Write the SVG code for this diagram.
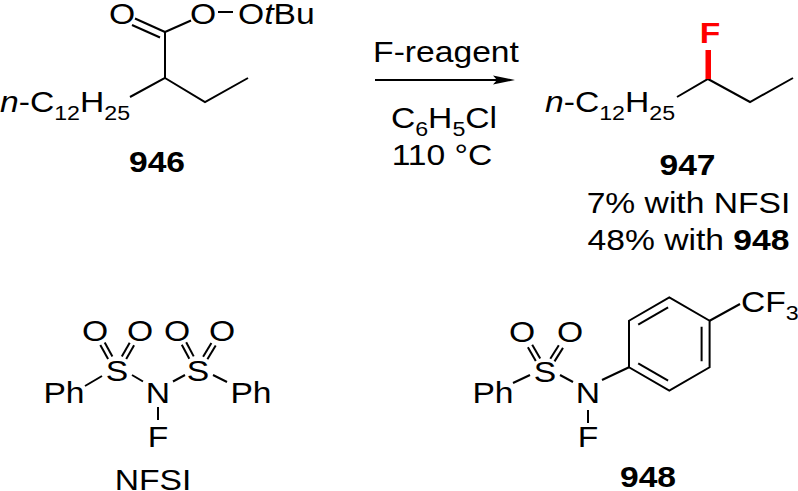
<svg xmlns="http://www.w3.org/2000/svg" width="798" height="491" viewBox="0 0 798 491">
<style>
text { font-family: "Liberation Sans", Arial, Helvetica, sans-serif; font-size: 29px; fill: #000; }
.b { font-weight: bold; }
.m { text-anchor: middle; }
.i { font-style: italic; }
.sub { font-size: 20px; }
.bond { stroke: #000; stroke-width: 2; fill: none; stroke-linecap: butt; stroke-linejoin: miter; }
.red { fill: #ff0000; }
</style>
<rect width="798" height="491" fill="#fff"/>

<g id="compound-946">
  <text class="m" transform="matrix(1.16 0 0 1 122 24)">O</text>
  <text class="m" transform="matrix(1.16 0 0 1 203 24)">O</text>
  <text transform="matrix(1.16 0 0 1 238 24)">O<tspan class="i">t</tspan>Bu</text>
  <text transform="matrix(1.16 0 0 1 0 112)"><tspan class="i">n</tspan>-C<tspan class="sub" dy="8">12</tspan><tspan dy="-8">H</tspan><tspan class="sub" dy="8">25</tspan></text>
  <text class="m b" transform="matrix(1.16 0 0 1 157 172)">946</text>
  <line class="bond" x1="218" y1="12" x2="233" y2="12"/>
  <line class="bond" x1="135" y1="18.5" x2="165" y2="32"/>
  <line class="bond" x1="132" y1="25" x2="160" y2="37.5"/>
  <line class="bond" x1="165" y1="32" x2="191" y2="20.5"/>
  <polyline class="bond" points="165,32 165,78 130,97"/>
  <polyline class="bond" points="165,78 205,102 248,78"/>
</g>

<g id="conditions">
  <text class="m" transform="matrix(1.16 0 0 1 446 62)">F-reagent</text>
  <text class="m" transform="matrix(1.16 0 0 1 444 128)">C<tspan class="sub" dy="8">6</tspan><tspan dy="-8">H</tspan><tspan class="sub" dy="8">5</tspan><tspan dy="-8">Cl</tspan></text>
  <text class="m" transform="matrix(1.16 0 0 1 442 165)">110 °C</text>
</g>

<g id="compound-947">
  <text transform="matrix(1.16 0 0 1 545 112)"><tspan class="i">n</tspan>-C<tspan class="sub" dy="8">12</tspan><tspan dy="-8">H</tspan><tspan class="sub" dy="8">25</tspan></text>
  <polyline class="bond" points="677,97 708,79 750,102 793,78"/>
  <rect class="red" x="705.5" y="50" width="5.5" height="29"/>
  <text class="m b red" transform="matrix(1.16 0 0 1 710 43)">F</text>
  <text class="m b" transform="matrix(1.16 0 0 1 687.5 175)">947</text>
  <text class="m" transform="matrix(1.16 0 0 1 688.5 213)">7% with NFSI</text>
  <text class="m" transform="matrix(1.16 0 0 1 688.5 250)">48% with <tspan class="b">948</tspan></text>
</g>

<g id="NFSI">
  <text class="m" transform="matrix(1.16 0 0 1 95 341)">O</text>
  <text class="m" transform="matrix(1.16 0 0 1 140 341)">O</text>
  <text class="m" transform="matrix(1.16 0 0 1 177 341)">O</text>
  <text class="m" transform="matrix(1.16 0 0 1 222 341)">O</text>
  <text class="m" transform="matrix(1.16 0 0 1 117 381)">S</text>
  <text class="m" transform="matrix(1.16 0 0 1 198 381)">S</text>
  <text class="m" transform="matrix(1.16 0 0 1 158 403)">N</text>
  <text class="m" transform="matrix(1.16 0 0 1 158 447)">F</text>
  <text class="m" transform="matrix(1.16 0 0 1 64 403)">Ph</text>
  <text class="m" transform="matrix(1.16 0 0 1 251 403)">Ph</text>
  <text class="m" transform="matrix(1.16 0 0 1 153 490)">NFSI</text>
  <line class="bond" x1="85" y1="386" x2="102" y2="376"/>
  <line class="bond" x1="132" y1="375" x2="143" y2="381.5"/>
  <line class="bond" x1="173" y1="381.5" x2="185" y2="375"/>
  <line class="bond" x1="213" y1="375" x2="227" y2="382"/>
  <line class="bond" x1="158" y1="407" x2="158" y2="420"/>
  <line class="bond" x1="112.4" y1="356.5" x2="104.7" y2="342.5"/>
  <line class="bond" x1="108.1" y1="358.9" x2="100.3" y2="344.9"/>
  <line class="bond" x1="126.2" y1="359.1" x2="134.1" y2="345.2"/>
  <line class="bond" x1="121.8" y1="356.6" x2="129.7" y2="342.8"/>
  <line class="bond" x1="193.7" y1="356.4" x2="186.2" y2="342.3"/>
  <line class="bond" x1="189.3" y1="358.8" x2="181.8" y2="344.7"/>
  <line class="bond" x1="207.4" y1="359.3" x2="215.7" y2="345.6"/>
  <line class="bond" x1="203.1" y1="356.7" x2="211.4" y2="343"/>
</g>

<g id="compound-948">
  <text class="m" transform="matrix(1.16 0 0 1 522 342)">O</text>
  <text class="m" transform="matrix(1.16 0 0 1 570 342)">O</text>
  <text class="m" transform="matrix(1.16 0 0 1 545 382)">S</text>
  <text class="m" transform="matrix(1.16 0 0 1 493 403)">Ph</text>
  <text class="m" transform="matrix(1.16 0 0 1 588 403)">N</text>
  <text class="m" transform="matrix(1.16 0 0 1 588 447)">F</text>
  <text transform="matrix(1.16 0 0 1 741 312)">CF<tspan class="sub" dy="8">3</tspan></text>
  <text class="m b" transform="matrix(1.16 0 0 1 648 487)">948</text>
  <line class="bond" x1="513" y1="383" x2="530" y2="375"/>
  <line class="bond" x1="560" y1="375" x2="573" y2="382"/>
  <line class="bond" x1="588" y1="410" x2="588" y2="423"/>
  <line class="bond" x1="540.2" y1="358.6" x2="532.2" y2="344.8"/>
  <line class="bond" x1="535.8" y1="361.1" x2="527.9" y2="347.2"/>
  <line class="bond" x1="554.5" y1="361.4" x2="563" y2="347.9"/>
  <line class="bond" x1="550.3" y1="358.8" x2="558.8" y2="345.3"/>
  <line class="bond" x1="602" y1="380" x2="629" y2="367.25"/>
  <polygon class="bond" points="629,320.75 669.3,297.5 709.6,320.75 709.6,367.25 669.3,390.5 629,367.25"/>
  <line class="bond" x1="638.2" y1="324.7" x2="668.1" y2="307.4"/>
  <line class="bond" x1="701.6" y1="326.75" x2="701.6" y2="361.25"/>
  <line class="bond" x1="638.2" y1="363.3" x2="668.1" y2="380.6"/>
  <line class="bond" x1="709.6" y1="320.75" x2="740" y2="304"/>
</g>

<g id="connectors">
  <line class="bond" x1="375" y1="80" x2="498" y2="80"/>
  <polygon points="515,80 493,75.5 497,80 493,84.5" fill="#000"/>
</g>
</svg>
